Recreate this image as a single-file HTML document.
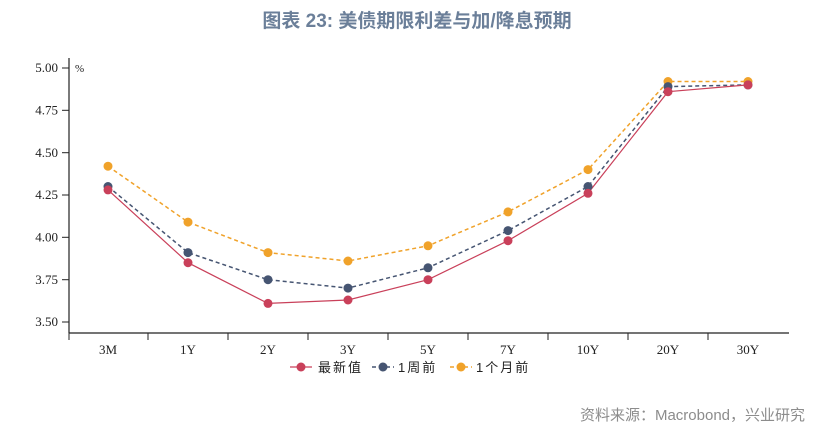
<!DOCTYPE html>
<html><head><meta charset="utf-8"><style>
html,body{margin:0;padding:0;background:#fff;}
body{width:835px;height:431px;overflow:hidden;}
</style></head><body>
<svg width="835" height="431" viewBox="0 0 835 431" xmlns="http://www.w3.org/2000/svg">
<text x="417" y="27" text-anchor="middle" font-family="Liberation Sans, Noto Sans CJK SC, sans-serif" font-size="19" font-weight="bold" fill="#6b7f99">图表 23: 美债期限利差与加/降息预期</text>
<g font-family="Liberation Serif, serif" font-size="13" fill="#222">
<line x1="69" y1="58" x2="69" y2="333" stroke="#222" stroke-width="1.2"/>
<line x1="69" y1="333" x2="789" y2="333" stroke="#222" stroke-width="1.2"/>
<g stroke="#222" stroke-width="1">
<line x1="62" y1="68" x2="69" y2="68"/><line x1="62" y1="110.3" x2="69" y2="110.3"/><line x1="62" y1="152.7" x2="69" y2="152.7"/><line x1="62" y1="195" x2="69" y2="195"/><line x1="62" y1="237.3" x2="69" y2="237.3"/><line x1="62" y1="279.7" x2="69" y2="279.7"/><line x1="62" y1="322" x2="69" y2="322"/>
<line x1="69" y1="333" x2="69" y2="340"/><line x1="148" y1="333" x2="148" y2="340"/><line x1="228" y1="333" x2="228" y2="340"/><line x1="308" y1="333" x2="308" y2="340"/><line x1="388" y1="333" x2="388" y2="340"/><line x1="468" y1="333" x2="468" y2="340"/><line x1="548" y1="333" x2="548" y2="340"/><line x1="628" y1="333" x2="628" y2="340"/><line x1="708" y1="333" x2="708" y2="340"/>
</g>
<g text-anchor="end">
<text x="58" y="72">5.00</text><text x="58" y="114.5">4.75</text><text x="58" y="157">4.50</text><text x="58" y="199">4.25</text><text x="58" y="241.5">4.00</text><text x="58" y="284">3.75</text><text x="58" y="326">3.50</text>
</g>
<text x="75" y="72" font-size="11">%</text>
<g text-anchor="middle">
<text x="108" y="354">3M</text><text x="188" y="354">1Y</text><text x="268" y="354">2Y</text><text x="348" y="354">3Y</text><text x="428" y="354">5Y</text><text x="508" y="354">7Y</text><text x="588" y="354">10Y</text><text x="668" y="354">20Y</text><text x="748" y="354">30Y</text>
</g>
</g>
<polyline fill="none" stroke="#f0a22a" stroke-width="1.5" stroke-dasharray="4,3" points="108,166.2 188,222.1 268,252.6 348,261 428,245.8 508,211.9 588,169.6 668,81.5 748,81.5"/>
<polyline fill="none" stroke="#465572" stroke-width="1.5" stroke-dasharray="4,3" points="108,186.5 188,252.6 268,279.7 348,288.1 428,267.8 508,230.6 588,186.5 668,86.6 748,84.9"/>
<polyline fill="none" stroke="#c9405a" stroke-width="1.2" points="108,189.9 188,262.7 268,303.4 348,300 428,279.7 508,240.7 588,193.3 668,91.7 748,84.9"/>
<g fill="#f0a22a"><circle cx="108" cy="166.2" r="4.5"/><circle cx="188" cy="222.1" r="4.5"/><circle cx="268" cy="252.6" r="4.5"/><circle cx="348" cy="261" r="4.5"/><circle cx="428" cy="245.8" r="4.5"/><circle cx="508" cy="211.9" r="4.5"/><circle cx="588" cy="169.6" r="4.5"/><circle cx="668" cy="81.5" r="4.5"/><circle cx="748" cy="81.5" r="4.5"/></g>
<g fill="#465572"><circle cx="108" cy="186.5" r="4.5"/><circle cx="188" cy="252.6" r="4.5"/><circle cx="268" cy="279.7" r="4.5"/><circle cx="348" cy="288.1" r="4.5"/><circle cx="428" cy="267.8" r="4.5"/><circle cx="508" cy="230.6" r="4.5"/><circle cx="588" cy="186.5" r="4.5"/><circle cx="668" cy="86.6" r="4.5"/><circle cx="748" cy="84.9" r="4.5"/></g>
<g fill="#c9405a"><circle cx="108" cy="189.9" r="4.5"/><circle cx="188" cy="262.7" r="4.5"/><circle cx="268" cy="303.4" r="4.5"/><circle cx="348" cy="300" r="4.5"/><circle cx="428" cy="279.7" r="4.5"/><circle cx="508" cy="240.7" r="4.5"/><circle cx="588" cy="193.3" r="4.5"/><circle cx="668" cy="91.7" r="4.5"/><circle cx="748" cy="84.9" r="4.5"/></g>
<g font-family="Liberation Sans, Noto Sans CJK SC, sans-serif" font-size="13" fill="#222">
<line x1="290" y1="367" x2="312" y2="367" stroke="#c9405a" stroke-width="1.2"/><circle cx="301" cy="367" r="4.5" fill="#c9405a"/>
<text x="318" y="372" letter-spacing="2">最新值</text>
<line x1="372" y1="367" x2="394" y2="367" stroke="#465572" stroke-width="1.5" stroke-dasharray="4,3"/><circle cx="383" cy="367" r="4.5" fill="#465572"/>
<text x="398" y="372" letter-spacing="2">1周前</text>
<line x1="450" y1="367" x2="472" y2="367" stroke="#f0a22a" stroke-width="1.5" stroke-dasharray="4,3"/><circle cx="461" cy="367" r="4.5" fill="#f0a22a"/>
<text x="476" y="372" letter-spacing="2">1个月前</text>
</g>
<text x="805" y="420" text-anchor="end" font-family="Liberation Sans, Noto Sans CJK SC, sans-serif" font-size="15" fill="#8c8c8c">资料来源：Macrobond，兴业研究</text>
</svg>
</body></html>
